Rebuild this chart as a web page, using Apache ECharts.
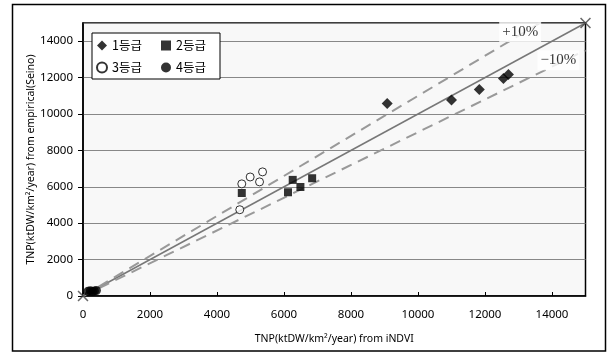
<!DOCTYPE html>
<html>
<head>
<meta charset="utf-8">
<script src="https://cdn.jsdelivr.net/npm/echarts@6/dist/echarts.min.js"></script>
<style>
  html, body { margin: 0; padding: 0; background: #fff; }
  #chart { width: 615px; height: 352px; }
</style>
</head>
<body>
<div id="chart"></div>
<script>
// 등급별 TNP (iNDVI 추정 vs 경험식)
var class1X = [9080, 11000, 11830, 12550, 12700];
var class1Y = [10580, 10770, 11340, 11950, 12170];
var class2X = [4740, 6260, 6120, 6490, 6840];
var class2Y = [5660, 6380, 5700, 5990, 6470];
var class3X = [4740, 4990, 5270, 5360, 4680];
var class3Y = [6160, 6540, 6270, 6820, 4740];
var class4X = [150, 220, 280, 340, 400];
var class4Y = [260, 290, 250, 280, 300];

// 1:1 선과 ±10% 선
var lineX = [0, 15000];
var lineY = [0, 15000];
var plusX = [0, 13640];
var plusY = [0, 15000];
var minusX = [0, 15000];
var minusY = [0, 13500];

var legendNames = ["1등급", "2등급", "3등급", "4등급"];
var bandLabels = ["+10%", "\u221210%"];
var bandLabelX = [13050, 14190];
var bandLabelY = [14500, 12950];

function pairs(xs, ys) {
  return xs.map(function (x, i) { return [x, ys[i]]; });
}

var crossPath = "path://M0,1L1,0L5,4L9,0L10,1L6,5L10,9L9,10L5,6L1,10L0,9L4,5Z";

var chart = echarts.init(document.getElementById("chart"));
var option = {
  animation: false,
  backgroundColor: "#fff",
  textStyle: { fontFamily: "Noto Sans" },
  graphic: [
    {
      type: "rect",
      shape: { x: 12.5, y: 4.5, width: 593, height: 346.5 },
      style: { fill: "none", stroke: "#000", lineWidth: 1.5 },
      z: 100
    }
  ],
  legend: {
    left: 92,
    top: 33,
    width: 128,
    padding: [6, 4, 5, 4],
    itemGap: 9,
    itemWidth: 10,
    itemHeight: 10,
    backgroundColor: "#fff",
    borderColor: "#000",
    borderWidth: 1,
    data: legendNames,
    textStyle: {
      fontFamily: "Noto Sans CJK KR",
      fontSize: 12.5,
      color: "#000",
      width: 40,
      lineHeight: 13
    }
  },
  grid: {
    left: 83,
    right: 29.5,
    top: 23,
    bottom: 56,
    show: true,
    backgroundColor: "#f8f8f8",
    borderColor: "#000",
    borderWidth: 1.5
  },
  xAxis: {
    type: "value",
    min: 0,
    max: 15000,
    interval: 2000,
    name: "TNP(ktDW/km²/year) from iNDVI",
    nameLocation: "middle",
    nameMoveOverlap: false,
    nameGap: 43,
    nameTextStyle: { fontSize: 10.5, color: "#000", verticalAlign: "middle" },
    axisLine: { show: true, lineStyle: { color: "#000", width: 1.5 } },
    axisTick: { show: true, inside: true, length: 4, lineStyle: { color: "#000" } },
    axisLabel: {
      fontSize: 11.5, color: "#000", margin: 13, showMaxLabel: false,
      formatter: function (v) { return String(v); }
    },
    splitLine: { show: false }
  },
  yAxis: {
    type: "value",
    min: 0,
    max: 15000,
    interval: 2000,
    name: "TNP(ktDW/km²/year) from empirical(Seino)",
    nameLocation: "middle",
    nameMoveOverlap: false,
    nameGap: 52,
    nameTextStyle: { fontSize: 10.5, color: "#000", verticalAlign: "middle" },
    axisLine: { show: true, lineStyle: { color: "#000", width: 1.5 } },
    axisTick: { show: true, length: 5, lineStyle: { color: "#000" } },
    axisLabel: {
      fontSize: 11.5, color: "#000", margin: 10, showMaxLabel: false,
      formatter: function (v) { return String(v); }
    },
    splitLine: { show: true, lineStyle: { color: "#888", width: 1 } }
  },
  series: [
    {
      name: "1:1",
      type: "line",
      data: pairs(lineX, lineY),
      symbol: "none",
      lineStyle: { color: "#777", width: 1.5 },
      silent: true
    },
    {
      name: "+10",
      type: "line",
      data: pairs(plusX, plusY),
      symbol: "none",
      lineStyle: { color: "#999", width: 2, type: [11, 7] },
      silent: true
    },
    {
      name: "-10",
      type: "line",
      data: pairs(minusX, minusY),
      symbol: "none",
      lineStyle: { color: "#999", width: 2, type: [11, 7] },
      silent: true
    },
    {
      name: "bandLabel",
      type: "scatter",
      data: pairs(bandLabelX, bandLabelY),
      symbolSize: 0,
      z: 5,
      label: {
        show: true,
        position: "inside",
        formatter: function (p) { return bandLabels[p.dataIndex]; },
        fontFamily: "Liberation Serif",
        fontSize: 15,
        color: "#000",
        backgroundColor: "#fff",
        padding: [3, 3, 2, 3]
      }
    },
    {
      name: "ends",
      type: "scatter",
      data: pairs(lineX, lineY),
      symbol: crossPath,
      symbolSize: 11,
      clip: false,
      itemStyle: { color: "#444" },
      z: 6
    },
    {
      name: legendNames[0],
      type: "scatter",
      data: pairs(class1X, class1Y),
      symbol: "diamond",
      symbolSize: 11,
      itemStyle: { color: "#000" },
      z: 7
    },
    {
      name: legendNames[1],
      type: "scatter",
      data: pairs(class2X, class2Y),
      symbol: "rect",
      symbolSize: 8,
      itemStyle: { color: "#000" },
      z: 7
    },
    {
      name: legendNames[2],
      type: "scatter",
      data: pairs(class3X, class3Y),
      symbol: "circle",
      symbolSize: 8,
      itemStyle: { color: "#fff", borderColor: "#000", borderWidth: 1 },
      z: 7
    },
    {
      name: legendNames[3],
      type: "scatter",
      data: pairs(class4X, class4Y),
      symbol: "circle",
      symbolSize: 9,
      itemStyle: { color: "#000" },
      z: 7
    }
  ]
};
chart.setOption(option);
</script>
</body>
</html>
